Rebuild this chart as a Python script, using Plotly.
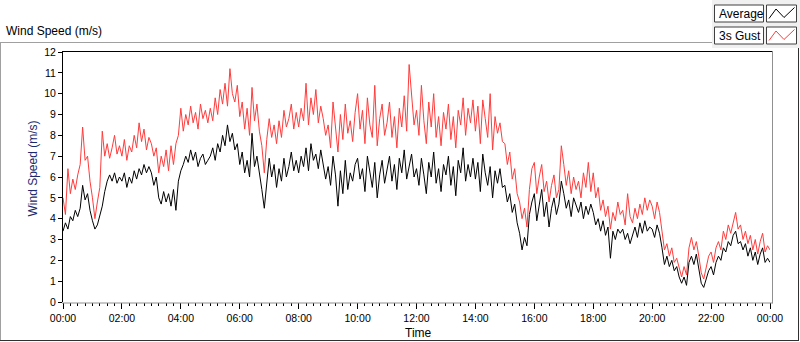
import plotly.graph_objects as go

# ---- data (5-minute samples) ----
avg_00_06 = [3.4, 3.8, 3.5, 4.1, 3.9, 4.4, 4.1, 4.5, 5.6, 4.9, 5.2, 4.4,
             3.9, 3.5, 3.7, 4.2, 4.6, 5.3, 5.8, 6.1, 5.8, 6.2, 5.7, 6.0,
             5.8, 6.2, 5.5, 6.0, 5.7, 6.3, 5.9, 6.4, 6.1, 6.6, 6.2, 6.5,
             6.2, 5.6, 6.0, 5.0, 4.7, 5.3, 4.8, 5.2, 4.6, 5.4, 4.4, 5.8,
             6.3, 6.6, 7.0, 6.7, 7.3, 6.8, 7.2, 6.5, 6.9, 7.1, 6.6, 6.8,
             7.0, 7.4, 6.8, 7.6, 7.2, 8.0, 7.5, 8.5, 7.7, 8.1, 7.3, 7.6]
avg_06_12 = [6.6, 7.2, 6.2, 6.8, 6.0, 8.1, 6.5, 7.0, 6.3, 5.4, 4.5, 5.6,
             6.9, 6.0, 6.6, 5.5, 6.4, 5.8, 6.9, 6.0, 6.5, 7.2, 6.3, 6.8,
             6.2, 7.0, 6.5, 7.4, 6.3, 7.6, 6.8, 7.1, 6.4, 7.3, 6.6, 5.9,
             6.5, 5.6, 7.0, 6.1, 4.6, 6.3, 5.2, 6.8, 5.4, 6.2, 5.8, 6.6,
             6.9, 5.9, 6.4, 5.3, 7.0, 6.2, 5.5, 6.7, 5.0, 6.1, 6.8, 5.7,
             6.3, 7.0, 5.8, 6.6, 5.4, 6.9, 6.2, 7.3, 5.9, 6.5, 7.1, 6.0]
avg_12_18 = [6.4, 5.6, 6.9, 6.1, 5.2, 6.7, 6.0, 7.2, 5.7, 6.4, 5.3, 6.6,
             6.1, 7.0, 5.6, 6.5, 5.1, 6.8, 6.2, 7.4, 5.8, 6.6, 6.0, 6.9,
             5.9, 6.7, 5.3, 7.1, 6.2, 5.6, 6.5, 5.0, 6.3, 5.7, 6.4, 5.5,
             5.6, 4.8, 5.2, 4.3, 4.7, 3.8, 3.3, 2.5, 3.1, 2.7, 4.2, 4.8,
             5.2, 3.9, 4.6, 5.4, 4.1, 4.8, 3.6, 4.5, 5.0, 4.2, 4.7, 5.8,
             5.2, 4.5, 4.9, 4.1, 5.0, 4.6, 4.3, 4.8, 4.0, 4.6, 4.2, 4.7]
avg_18_24 = [4.3, 3.7, 4.0, 3.4, 3.9, 3.2, 3.6, 2.1, 3.4, 3.0, 3.5, 3.3,
             3.5, 3.0, 3.3, 2.8, 3.2, 3.6, 3.1, 3.8, 3.3, 3.9, 3.4, 3.6,
             3.5, 3.1, 3.7, 3.3, 2.6, 1.8, 2.2, 1.7, 2.0, 1.5, 1.7, 1.2,
             0.9, 1.2, 0.8, 1.9, 2.2, 1.8, 2.3, 1.5, 0.9, 0.7, 1.1, 1.5,
             1.7, 1.3, 1.9, 2.2, 2.0, 2.6, 2.4, 2.9, 2.7, 3.2, 3.4, 2.8,
             2.9, 2.5, 2.8, 2.2, 2.6, 2.0, 2.4, 1.8, 2.3, 2.6, 1.9, 2.1,
             1.9]

gust_00_06 = [5.0, 4.2, 6.4, 5.2, 5.9, 5.4, 6.1, 6.6, 8.4, 6.8, 7.0, 5.8,
              5.0, 4.0, 4.8, 5.5, 8.2, 7.0, 7.6, 6.9, 7.4, 8.0, 7.1, 7.5,
              7.0, 7.8, 6.8, 7.5, 7.2, 8.0, 7.4, 8.6, 7.7, 8.3, 7.3, 7.9,
              7.6, 7.0, 7.4, 6.2, 7.0, 6.5, 7.3, 6.3, 7.5, 6.6, 7.6, 8.0,
              9.3, 8.2, 9.0, 8.5, 9.4, 8.6, 9.1, 8.3, 9.5, 8.8, 9.2, 8.6,
              9.3, 8.7, 9.8, 9.0, 10.2, 9.5, 10.5, 9.4, 11.2, 10.0, 9.6, 10.4]
gust_06_12 = [8.9, 9.6, 8.3, 9.3, 8.0, 10.3, 8.7, 9.5, 8.2, 7.5, 6.2, 7.8,
              8.8, 7.9, 8.5, 7.6, 8.7, 7.9, 9.2, 8.4, 8.8, 9.5, 8.3, 9.1,
              8.4, 9.3, 8.7, 10.5, 8.5, 9.8, 9.0, 10.2, 8.6, 9.4, 8.8, 8.0,
              8.5, 7.4, 9.6, 8.2, 7.2, 9.0, 7.8, 9.5, 8.1, 8.7, 7.7, 9.1,
              10.0, 8.3, 9.2, 7.6, 9.8, 8.5, 7.9, 10.4, 7.5, 8.8, 9.5, 8.0,
              8.6, 9.6, 7.9, 8.9, 7.4, 9.3, 8.4, 9.9, 8.2, 11.4, 9.7, 8.5]
gust_12_18 = [9.2, 8.0, 10.4, 8.7, 7.6, 9.6, 8.4, 10.0, 7.9, 8.9, 7.5, 9.1,
              8.3, 9.5, 7.8, 8.9, 7.4, 9.2, 8.5, 9.8, 8.0, 9.3, 8.6, 9.7,
              8.2, 9.4, 7.6, 9.7, 8.8, 7.9, 10.0, 7.3, 8.9, 8.1, 8.6, 7.7,
              7.6, 6.6, 7.2, 5.9, 6.4, 5.2, 4.8, 4.0, 4.5, 3.6, 5.4, 6.4,
              6.7, 5.2, 6.0, 6.6, 5.3, 5.8, 4.8, 5.6, 6.1, 5.0, 5.4, 7.5,
              6.6, 5.6, 6.3, 5.2, 6.0, 5.4, 5.8, 5.0, 6.2, 5.5, 6.7, 5.3]
gust_18_24 = [6.2, 5.0, 5.5, 4.4, 4.9, 4.1, 4.6, 3.5, 4.3, 3.9, 4.8, 4.2,
              4.4, 3.7, 5.2, 4.1, 3.8, 4.5, 4.0, 4.7, 4.2, 5.0, 4.4, 4.9,
              4.6, 4.0, 4.8, 4.3, 3.4, 2.5, 2.8, 2.2, 2.6, 1.9, 2.1, 1.6,
              1.2, 1.7, 1.3, 2.6, 3.1, 2.5, 2.9, 2.2, 1.4, 1.1, 1.6, 2.2,
              2.4, 1.9, 2.6, 2.9, 2.5, 3.4, 3.0, 3.7, 3.3, 3.8, 4.3, 3.5,
              3.7, 3.0, 3.4, 2.8, 3.2, 2.5, 3.0, 2.3, 2.9, 3.3, 2.4, 2.7,
              2.5]

average = avg_00_06 + avg_06_12 + avg_12_18 + avg_18_24
gust = gust_00_06 + gust_06_12 + gust_12_18 + gust_18_24
hours = [i / 12 for i in range(len(average))]

x_tick_vals = [0, 2, 4, 6, 8, 10, 12, 14, 16, 18, 20, 22, 24]
x_tick_text = ["00:00", "02:00", "04:00", "06:00", "08:00", "10:00", "12:00",
               "14:00", "16:00", "18:00", "20:00", "22:00", "00:00"]
y_tick_vals = list(range(0, 13))

series_names = ["Average", "3s Gust"]
series_colors = ["#000000", "#ff3c3c"]

# ---- layout helpers (pixel -> paper) ----
L, R, T, B = 63, 770, 52, 302
def px(x):
    return (x - L) / (R - L)
def py(y):
    return (B - y) / (B - T)

FONT = "Liberation Sans, Arial, sans-serif"

fig = go.Figure()
fig.add_trace(go.Scatter(x=hours, y=gust, mode="lines", name=series_names[1],
                         line=dict(color=series_colors[1], width=1)))
fig.add_trace(go.Scatter(x=hours, y=average, mode="lines", name=series_names[0],
                         line=dict(color=series_colors[0], width=1)))

shapes = []
def line(x0, y0, x1, y1, color, w=1):
    shapes.append(dict(type="line", xref="paper", yref="paper",
                       x0=px(x0), y0=py(y0), x1=px(x1), y1=py(y1),
                       line=dict(color=color, width=w)))
def rect(x0, y0, x1, y1, fill, color=None, w=1):
    shapes.append(dict(type="rect", xref="paper", yref="paper",
                       x0=px(x0), y0=py(y0), x1=px(x1), y1=py(y1),
                       fillcolor=fill, line=dict(color=color or fill, width=w if color else 0),
                       layer="above"))

# outer frame
line(0, 42.5, 712, 42.5, "#a0a0a0")
line(0.5, 42.5, 0.5, 340, "#a0a0a0")
line(0, 340.5, 799, 340.5, "#303030")
line(798.5, 44, 798.5, 341, "#303030")
# legend panel
rect(712, 0, 800, 48, "#f0f0f0")
# plot frame
line(62, 51.5, 772.5, 51.5, "#000000")
line(772.5, 51.5, 772.5, 303.5, "#909090")
line(62, 303, 772.5, 303, "#909090")

# legend boxes
annotations = []
for k, (nm, col) in enumerate(zip(series_names, series_colors)):
    y0 = 5 + 22 * k
    rect(714.5, y0, 763.5, y0 + 17, "#ffffff", "#404040")
    rect(766.5, y0, 796.5, y0 + 17, "#ffffff", "#404040")
    path_pts = [(769, y0 + 13.5), (776, y0 + 4), (784, y0 + 12.5), (794.5, y0 + 2.5)]
    path = "M " + " L ".join(f"{px(a)},{py(b)}" for a, b in path_pts)
    shapes.append(dict(type="path", xref="paper", yref="paper", path=path,
                       line=dict(color=col, width=1), layer="above"))
    annotations.append(dict(text=nm, xref="paper", yref="paper",
                            x=px(716.5), y=py(y0 + 8.8), xanchor="left", yanchor="middle",
                            showarrow=False, font=dict(family=FONT, size=12, color="#000000")))

annotations += [
    dict(text="Wind Speed (m/s)", xref="paper", yref="paper", x=px(4), y=py(31),
         xanchor="left", yanchor="middle", showarrow=False,
         font=dict(family=FONT, size=12, color="#000000")),
    dict(text="Wind Speed (m/s)", xref="paper", yref="paper", x=px(32), y=py(168.5),
         xanchor="center", yanchor="middle", textangle=-90, showarrow=False,
         font=dict(family=FONT, size=12, color="#1c2a6b")),
    dict(text="Time", xref="paper", yref="paper", x=px(418), y=py(333),
         xanchor="center", yanchor="middle", showarrow=False,
         font=dict(family=FONT, size=12, color="#000000")),
]

fig.update_layout(
    width=800, height=342,
    margin=dict(l=L, r=800 - R, t=T, b=342 - B),
    paper_bgcolor="#ffffff", plot_bgcolor="#ffffff",
    showlegend=False, hovermode=False,
    shapes=shapes, annotations=annotations,
    xaxis=dict(range=[0, 24], tickvals=x_tick_vals, ticktext=x_tick_text,
               ticks="outside", ticklen=6, tickwidth=1, tickcolor="#000000",
               minor=dict(dtick=0.25, tick0=0, ticks="outside", ticklen=3,
                          tickcolor="#000000", showgrid=False),
               showgrid=False, zeroline=False, showline=False,
               tickfont=dict(family=FONT, size=10.5, color="#000000")),
    yaxis=dict(range=[0, 12], tickvals=y_tick_vals,
               ticks="outside", ticklen=4, tickwidth=1, tickcolor="#000000",
               showgrid=False, zeroline=False, showline=True, linecolor="#000000",
               linewidth=1,
               tickfont=dict(family=FONT, size=10.5, color="#000000")),
)

fig.write_html("out.html", config={"displayModeBar": False},
               post_script="document.body.style.margin='0';document.body.style.overflow='hidden';")
